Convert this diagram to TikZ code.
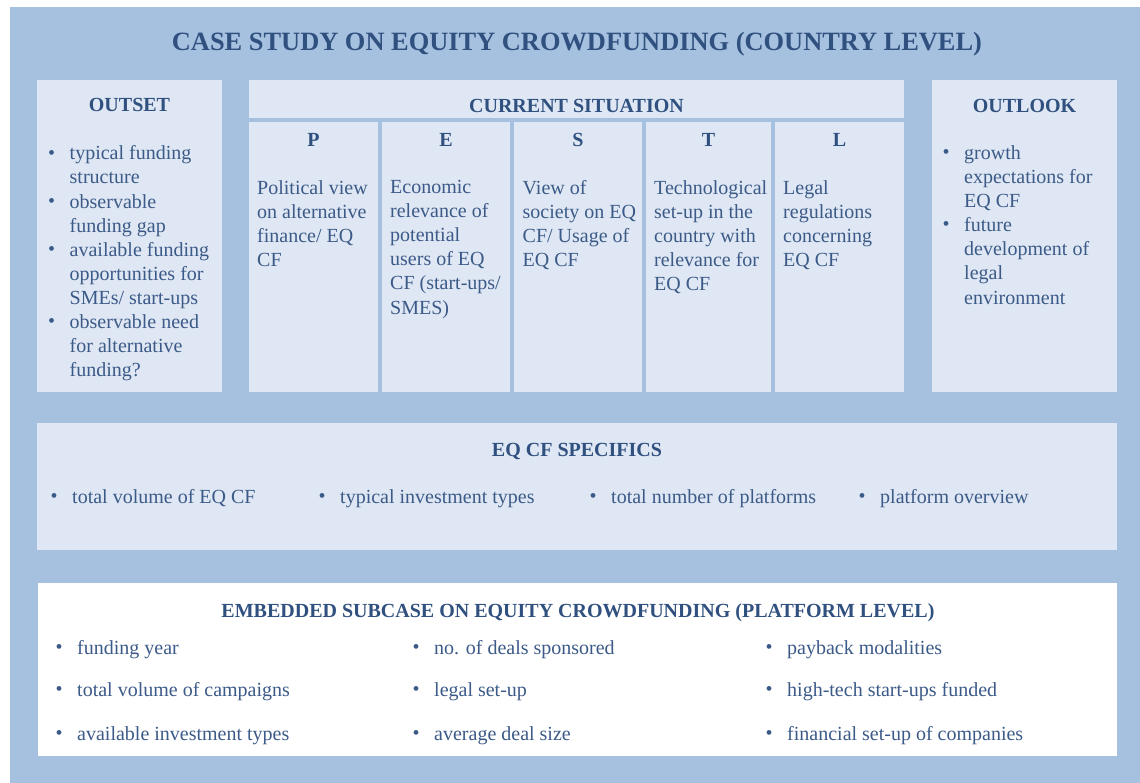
\documentclass[tikz,border=0pt]{standalone}
\usepackage{fontspec}
\setmainfont{Liberation Serif}
\definecolor{bgblue}{RGB}{166,193,223}
\definecolor{boxblue}{RGB}{222,231,243}
\definecolor{headc}{RGB}{48,80,127}
\definecolor{bodyc}{RGB}{60,90,136}
% bullet hung 18pt to the left of the item text
\newcommand{\bul}{\leavevmode\llap{\makebox[0pt][c]{\raisebox{0.8pt}{\textbullet}}\hspace{18pt}}}
\begin{document}
\begin{tikzpicture}[x=1pt,y=-1pt,
  panel/.style={fill=boxblue, draw=none, inner sep=0pt, outer sep=0pt, anchor=north west},
  head/.style={text=headc, font=\fontsize{20}{24}\selectfont\bfseries, inner sep=0pt, anchor=base},
  body/.style={text=bodyc, font=\fontsize{20}{24.1}\selectfont, inner sep=0pt, anchor=north west,
    align=left, execute at begin node=\strut},
  item/.style={text=bodyc, font=\fontsize{20}{24.1}\selectfont, inner sep=0pt, anchor=base west}]
\useasboundingbox (0,0) rectangle (1140,783);
\fill[white] (0,0) rectangle (1140,783);
\fill[bgblue] (10,7) rectangle (1140,783);

% title
\node[head, font=\fontsize{26.4}{30}\selectfont\bfseries] (title) at (577,50.7)
  {CASE STUDY ON EQUITY CROWDFUNDING (COUNTRY LEVEL)};

% outset
\node[panel, minimum width=185pt, minimum height=312pt] (outset) at (37,80) {};
\node[head] (outsethead) at (129.5,112) {OUTSET};
\node[body] (outsetlist) at (69.5,145.6)
  {\bul typical funding\\structure\\\bul observable\\funding gap\\\bul available funding\\opportunities for\\SMEs/ start-ups\\\bul observable need\\for alternative\\funding?};

% current situation with PESTL columns
\node[panel, minimum width=655pt, minimum height=38pt] (cs) at (249,80) {};
\node[head] (cshead) at (576.5,112.3) {CURRENT SITUATION};
\node[panel, minimum width=129pt, minimum height=270pt] (colP) at (249,122) {};
\node[panel, minimum width=128pt, minimum height=270pt] (colE) at (382,122) {};
\node[panel, minimum width=128pt, minimum height=270pt] (colS) at (514,122) {};
\node[panel, minimum width=125pt, minimum height=270pt] (colT) at (646,122) {};
\node[panel, minimum width=129pt, minimum height=270pt] (colL) at (775,122) {};
\node[head] (hP) at (colP.north |- 0,146.7) {P};
\node[head] (hE) at (colE.north |- 0,146.7) {E};
\node[head] (hS) at (colS.north |- 0,146.7) {S};
\node[head] (hT) at (colT.north |- 0,146.7) {T};
\node[head] (hL) at (colL.north |- 0,146.7) {L};
\node[body] (tP) at (257,180.1) {Political view\\on alternative\\finance/ EQ\\CF};
\node[body] (tE) at (390,180.1) {Economic\\relevance of\\potential\\users of EQ\\CF (start-ups/\\SMES)};
\node[body] (tS) at (522.5,180.1) {View of\\society on EQ\\CF/ Usage of\\EQ CF};
\node[body] (tT) at (654,180.1) {Technological\\set-up in the\\country with\\relevance for\\EQ CF};
\node[body] (tL) at (783,180.1) {Legal\\regulations\\concerning\\EQ CF};

% outlook
\node[panel, minimum width=185pt, minimum height=312pt] (outlook) at (932,80) {};
\node[head] (outlookhead) at (1024.5,112.3) {OUTLOOK};
\node[body] (outlooklist) at (964,145.4)
  {\bul growth\\expectations for\\EQ CF\\\bul future\\development of\\legal\\environment};

% EQ CF specifics
\node[panel, minimum width=1080pt, minimum height=127pt] (spec) at (37,423) {};
\node[head] (spechead) at (577,456) {EQ CF SPECIFICS};
\node[item] (s1) at (72,503.3) {\bul total volume of EQ CF};
\node[item] (s2) at (340,503.3) {\bul typical investment types};
\node[item] (s3) at (611,503.3) {\bul total number of platforms};
\node[item] (s4) at (880,503.3) {\bul platform overview};

% embedded subcase
\node[panel, fill=white, minimum width=1079pt, minimum height=173pt] (sub) at (38,583) {};
\node[head] (subhead) at (578,617.7) {EMBEDDED SUBCASE ON EQUITY CROWDFUNDING (PLATFORM LEVEL)};
\node[item] (a1) at (77,654) {\bul funding year};
\node[item] (a2) at (77,696) {\bul total volume of campaigns};
\node[item] (a3) at (77,740) {\bul available investment types};
\node[item] (b1) at (434,654) {\bul no. of deals sponsored};
\node[item] (b2) at (434,696) {\bul legal set-up};
\node[item] (b3) at (434,740) {\bul average deal size};
\node[item] (c1) at (787,654) {\bul payback modalities};
\node[item] (c2) at (787,696) {\bul high-tech start-ups funded};
\node[item] (c3) at (787,740) {\bul financial set-up of companies};
\end{tikzpicture}
\end{document}
